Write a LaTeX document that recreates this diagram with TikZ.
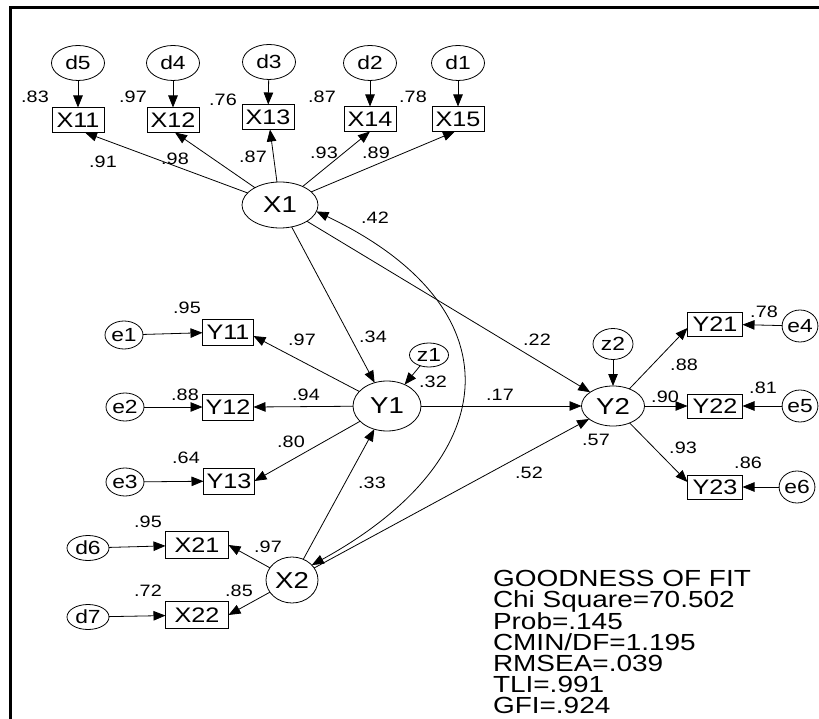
\documentclass[tikz,border=0pt]{standalone}
\usepackage{fontspec}
\setmainfont{Liberation Sans}[FakeStretch=1.2]
\usetikzlibrary{shapes.geometric,arrows.meta}
\begin{document}
\begin{tikzpicture}[x=1pt,y=-1pt,
  every node/.style={inner sep=0pt, outer sep=0pt},
  obsbox/.style 2 args={draw, line width=0.8pt, rectangle, minimum width=#1, minimum height=#2, font=\fontsize{21}{24}\selectfont},
  latent/.style 2 args={draw, line width=0.8pt, ellipse, minimum width=#1, minimum height=#2, font=\fontsize{23}{27}\selectfont},
  errnode/.style 2 args={draw, line width=0.8pt, ellipse, minimum width=#1, minimum height=#2, font=\fontsize{19}{22}\selectfont},
  lab/.style={font=\fontsize{16.5}{19}\selectfont},
  gof/.style={font=\fontsize{23.3}{21.2}\selectfont, anchor=base west},
  arr/.style={-{Triangle[length=12pt,width=9.5pt]}, line width=0.8pt},
  biarr/.style={{Triangle[length=12pt,width=9.5pt]}-{Triangle[length=12pt,width=9.5pt]}, line width=0.8pt}
]
\useasboundingbox (0,0) rectangle (819,719);
% frame
\draw[line width=3pt, line join=miter] (10,719) -- (10,7.5) -- (819,7.5);

% top indicators
\node[errnode={53pt}{35pt}] (d5) at (78,63) {d5};
\node[errnode={53pt}{35pt}] (d4) at (173,63) {d4};
\node[errnode={53pt}{35pt}] (d3) at (269,62) {d3};
\node[errnode={53pt}{35pt}] (d2) at (370,63) {d2};
\node[errnode={53pt}{35pt}] (d1) at (458,63) {d1};
\node[obsbox={52pt}{25pt}] (X11) at (78,120) {X11};
\node[obsbox={52pt}{25pt}] (X12) at (173,120) {X12};
\node[obsbox={52pt}{25pt}] (X13) at (268,117) {X13};
\node[obsbox={52pt}{25pt}] (X14) at (370,119) {X14};
\node[obsbox={52pt}{25pt}] (X15) at (458,119) {X15};
\node[latent={76pt}{46pt}] (X1) at (280,205) {X1};

% Y1 block
\node[errnode={38pt}{28pt}] (e1) at (124,335) {e1};
\node[errnode={38pt}{28pt}] (e2) at (125,407) {e2};
\node[errnode={38pt}{28pt}] (e3) at (125,482) {e3};
\node[obsbox={51pt}{26pt}] (Y11) at (228,332) {Y11};
\node[obsbox={51pt}{26pt}] (Y12) at (228,407) {Y12};
\node[obsbox={51pt}{26pt}] (Y13) at (229,481) {Y13};
\node[errnode={39pt}{24pt}] (z1) at (429,355) {z1};
\node[latent={68pt}{50pt}] (Y1) at (387,406) {Y1};

% Y2 block
\node[errnode={40pt}{31pt}] (z2) at (613,344) {z2};
\node[latent={63pt}{40pt}] (Y2) at (613,406) {Y2};
\node[obsbox={55pt}{24pt}] (Y21) at (715,324) {Y21};
\node[obsbox={55pt}{24pt}] (Y22) at (715,406) {Y22};
\node[obsbox={55pt}{24pt}] (Y23) at (715,487) {Y23};
\node[errnode={34pt}{32pt}] (e4) at (800,326) {e4};
\node[errnode={34pt}{32pt}] (e5) at (800,406) {e5};
\node[errnode={34pt}{32pt}] (e6) at (797,487) {e6};

% X2 block
\node[errnode={42pt}{25pt}] (d6) at (88,548) {d6};
\node[errnode={42pt}{25pt}] (d7) at (88,617) {d7};
\node[obsbox={63pt}{27pt}] (X21) at (197,545) {X21};
\node[obsbox={63pt}{27pt}] (X22) at (197,615) {X22};
\node[latent={52pt}{46pt}] (X2) at (292,580) {X2};

% connectors
\draw[arr] (d5) -- (X11);
\draw[arr] (d4) -- (X12);
\draw[arr] (d3) -- (X13);
\draw[arr] (d2) -- (X14);
\draw[arr] (d1) -- (X15);
\draw[arr] (X1) -- ([xshift=7pt]X11.south);
\draw[arr] (X1) -- ([xshift=2pt]X12.south);
\draw[arr] (X1) -- ([xshift=2pt]X13.south);
\draw[arr] (X1) -- (X14.south);
\draw[arr] (X1) -- ([xshift=-3pt]X15.south);
\draw[arr] (X1) -- (Y1);
\draw[arr] (X1) -- (Y2);
\draw[arr] (Y1) -- (Y2);
\draw[arr] (X2) -- (Y1);
\draw[arr] (X2) -- (Y2);
\draw[arr] (z1) -- (Y1);
\draw[arr] (z2) -- (Y2);
\draw[arr] (Y1) -- ([yshift=-4pt]Y11.east);
\draw[arr] (Y1) -- (Y12.east);
\draw[arr] (Y1) -- (Y13.east);
\draw[arr] (e1) -- (Y11);
\draw[arr] (e2) -- (Y12);
\draw[arr] (e3) -- (Y13);
\draw[arr] (Y2) -- ([yshift=-4pt]Y21.west);
\draw[arr] (Y2) -- (Y22.west);
\draw[arr] (Y2) -- ([yshift=5pt]Y23.west);
\draw[arr] (e4) -- (Y21);
\draw[arr] (e5) -- (Y22);
\draw[arr] (e6) -- (Y23);
\draw[arr] (d6) -- (X21);
\draw[arr] (d7) -- (X22);
\draw[arr] (X2) -- (X21.east);
\draw[arr] (X2) -- (X22.east);
\draw[biarr] (X1.-10) .. controls (517,307) and (507,458) .. (X2.37);

% labels
\node[lab] (l1) at (35,97) {.83};
\node[lab] (l2) at (133,97) {.97};
\node[lab] (l3) at (223,100) {.76};
\node[lab] (l4) at (322,97) {.87};
\node[lab] (l5) at (413,97) {.78};
\node[lab] (l6) at (103,162) {.91};
\node[lab] (l7) at (175,159) {.98};
\node[lab] (l8) at (253,157) {.87};
\node[lab] (l9) at (324,153) {.93};
\node[lab] (l10) at (376,153) {.89};
\node[lab] (l11) at (375,218) {.42};
\node[lab] (l12) at (187,308) {.95};
\node[lab] (l13) at (302,340) {.97};
\node[lab] (l14) at (373,337) {.34};
\node[lab] (l15) at (433,382) {.32};
\node[lab] (l16) at (185,395) {.88};
\node[lab] (l17) at (306,395) {.94};
\node[lab] (l18) at (291,442) {.80};
\node[lab] (l19) at (186,458) {.64};
\node[lab] (l20) at (372,483) {.33};
\node[lab] (l21) at (537,340) {.22};
\node[lab] (l22) at (764,312) {.78};
\node[lab] (l23) at (684,365) {.88};
\node[lab] (l24) at (500,395) {.17};
\node[lab] (l25) at (665,397) {.90};
\node[lab] (l26) at (763,388) {.81};
\node[lab] (l27) at (596,440) {.57};
\node[lab] (l28) at (683,448) {.93};
\node[lab] (l29) at (529,473) {.52};
\node[lab] (l30) at (748,463) {.86};
\node[lab] (l31) at (148,522) {.95};
\node[lab] (l32) at (268,547) {.97};
\node[lab] (l33) at (148,591) {.72};
\node[lab] (l34) at (239,591) {.85};

% goodness of fit
\node[gof] (g1) at (493,586.7) {GOODNESS OF FIT};
\node[gof] (g2) at (493,607.9) {Chi Square=70.502};
\node[gof] (g3) at (493,629.1) {Prob=.145};
\node[gof] (g4) at (493,650.3) {CMIN/DF=1.195};
\node[gof] (g5) at (493,671.5) {RMSEA=.039};
\node[gof] (g6) at (493,692.7) {TLI=.991};
\node[gof] (g7) at (493,713.9) {GFI=.924};
\end{tikzpicture}
\end{document}
